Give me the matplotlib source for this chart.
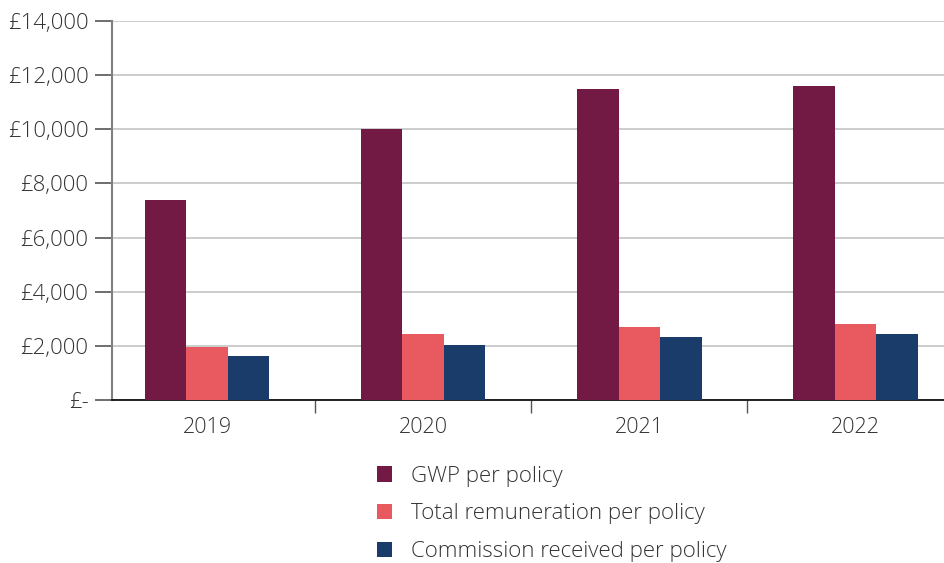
import matplotlib.pyplot as plt
from matplotlib.ticker import FuncFormatter
from matplotlib.patches import Patch
import numpy as np

plt.rcParams['font.family'] = ['Open Sans', 'DejaVu Sans']
plt.rcParams['font.weight'] = 'light'

years = ['2019', '2020', '2021', '2022']
gwp = [7400, 10000, 11500, 11600]
remuneration = [1970, 2430, 2700, 2800]
commission = [1640, 2050, 2320, 2420]

labels = ['GWP per policy', 'Total remuneration per policy', 'Commission received per policy']
colors = ['#721a43', '#e95a60', '#1a3c6b']

fig = plt.figure(figsize=(9.44, 5.63), dpi=100)
ax = fig.add_axes([112 / 944, 1 - 400 / 563, 1 - 112 / 944, 379 / 563])

x = np.arange(len(years))
w = 0.192
for i, vals in enumerate([gwp, remuneration, commission]):
    ax.bar(x + (i - 1) * w, vals, w, color=colors[i], zorder=3)

ax.set_xlim(-0.44, 3.41)
ax.set_ylim(0, 14000)
ax.set_yticks(range(0, 14001, 2000))
ax.yaxis.set_major_formatter(FuncFormatter(lambda v, p: '£-' if v == 0 else '£{:,.0f}'.format(v)))
ax.grid(axis='y', color='#c4c4c4', linewidth=1.2, zorder=0)

ax.set_xticks(x)
ax.set_xticklabels(years)
ax.set_xticks([0.5, 1.5, 2.5], minor=True)
ax.tick_params(axis='x', which='major', length=0, pad=12, labelsize=15.5, labelcolor='#333333')
ax.tick_params(axis='x', which='minor', length=9, width=1, color='#555555')
ax.tick_params(axis='y', length=12, width=1.2, color='#555555', labelsize=16, labelcolor='#333333', pad=5)

for s in ['top', 'right']:
    ax.spines[s].set_visible(False)
ax.spines['left'].set_color('#808080')
ax.spines['left'].set_linewidth(1.5)
ax.spines['bottom'].set_color('#111111')
ax.spines['bottom'].set_linewidth(1.3)

handles = [Patch(facecolor=c, label=l) for c, l in zip(colors, labels)]
fig.legend(handles=handles, loc='upper left', bbox_to_anchor=(361 / 944, 1 - 450 / 563),
           frameon=False, fontsize=16, handlelength=0.7, handleheight=0.7,
           handletextpad=0.85, labelspacing=0.76, labelcolor='#333333',
           borderpad=0.2)

fig.savefig('out.png', dpi=100)
